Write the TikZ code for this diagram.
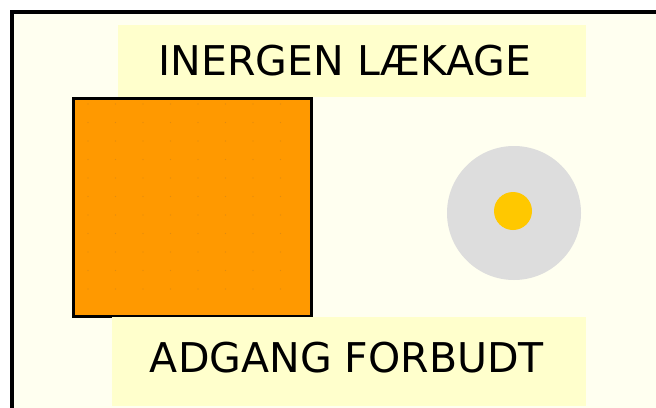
\documentclass[tikz,border=0pt]{standalone}
\usepackage{fontspec}
\setmainfont{DejaVu Sans}
\definecolor{cream}{HTML}{FFFFF0}
\definecolor{labelbg}{HTML}{FFFFCC}
\definecolor{orangefill}{HTML}{FF9900}
\definecolor{dotorange}{HTML}{E08A10}
\definecolor{discgray}{HTML}{DDDDDD}
\definecolor{coreyellow}{HTML}{FFC800}
\begin{document}
\begin{tikzpicture}[x=0.75pt,y=-0.75pt,
  labelbox/.style={fill=labelbg,draw=none,inner sep=0pt},
  labeltext/.style={font=\fontsize{30.75pt}{36pt}\selectfont,anchor=base,inner sep=0pt,text=black},
  framebox/.style={line width=3pt,draw=black,fill=cream}]
\useasboundingbox (0,0) rectangle (656,407);
\fill[white] (0,0) rectangle (656,407);
\begin{scope}
\clip (0,0) rectangle (656,407);
\draw[framebox] (12,12) rectangle (670,420);
\end{scope}
% top label
\node[labelbox,minimum width=351pt,minimum height=54pt] (topbox) at (352,61) {};
\node[labeltext] (toptext) at (345,75) {INERGEN LÆKAGE};
% orange square
\node[draw=black,line width=2.25pt,fill=orangefill,minimum width=178.5pt,minimum height=163.5pt,inner sep=0pt] (square) at (192.5,207.5) {};
\foreach \i in {0,...,7}{
  \foreach \j in {0,...,10}{
    \fill[dotorange] (88+\i*27.5,104+\j*18.5) circle (0.5pt);
  }
}
% bottom label
\node[labelbox,minimum width=355.5pt,minimum height=66.75pt] (bottombox) at (349,361.5) {};
\node[labeltext] (bottomtext) at (347,372) {ADGANG FORBUDT};
% disc
\node[circle,fill=discgray,minimum size=100.5pt,inner sep=0pt] (disc) at (514,213) {};
\node[circle,fill=coreyellow,minimum size=28.5pt,inner sep=0pt] (core) at (513,211) {};
\end{tikzpicture}
\end{document}
